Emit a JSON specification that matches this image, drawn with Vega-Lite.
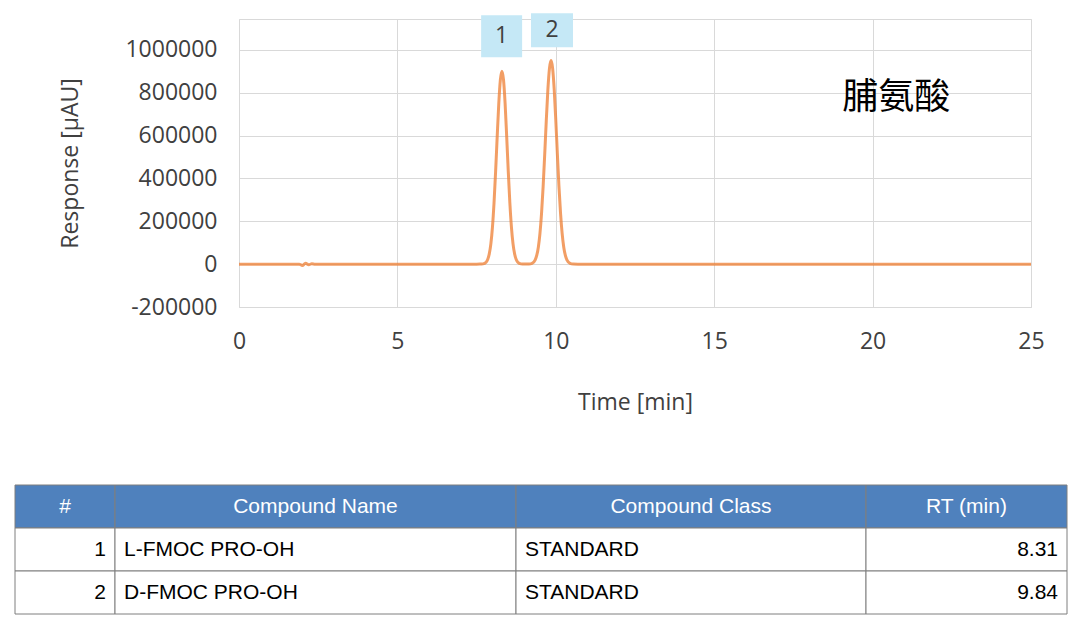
{
  "$schema": "https://vega.github.io/schema/vega-lite/v6.json",
  "background": "white",
  "padding": {"top": 12, "left": 14, "right": 0, "bottom": 0},
  "config": {
    "font": "Open Sans",
    "view": {"stroke": null}
  },
  "datasets": {
    "chrom": [
      {"t": 0, "resp": 0},
      {"t": 1.9, "resp": 0},
      {"t": 2.0, "resp": -6000},
      {"t": 2.1, "resp": 4000},
      {"t": 2.2, "resp": -3000},
      {"t": 2.3, "resp": 2000},
      {"t": 2.4, "resp": 0},
      {"t": 7.5, "resp": 0},
      {"t": 7.6, "resp": 100},
      {"t": 7.7, "resp": 1200},
      {"t": 7.8, "resp": 9100},
      {"t": 7.85, "resp": 21900},
      {"t": 7.9, "resp": 47700},
      {"t": 7.95, "resp": 94500},
      {"t": 8.0, "resp": 171900},
      {"t": 8.05, "resp": 285300},
      {"t": 8.1, "resp": 432000},
      {"t": 8.15, "resp": 594900},
      {"t": 8.2, "resp": 748800},
      {"t": 8.25, "resp": 859500},
      {"t": 8.3, "resp": 900000},
      {"t": 8.35, "resp": 859500},
      {"t": 8.4, "resp": 748800},
      {"t": 8.45, "resp": 594900},
      {"t": 8.5, "resp": 432000},
      {"t": 8.55, "resp": 285300},
      {"t": 8.6, "resp": 171900},
      {"t": 8.65, "resp": 94500},
      {"t": 8.7, "resp": 47700},
      {"t": 8.75, "resp": 21900},
      {"t": 8.8, "resp": 9100},
      {"t": 8.9, "resp": 1200},
      {"t": 9.0, "resp": 100},
      {"t": 9.15, "resp": 500},
      {"t": 9.25, "resp": 3700},
      {"t": 9.35, "resp": 20000},
      {"t": 9.4, "resp": 41700},
      {"t": 9.45, "resp": 80400},
      {"t": 9.5, "resp": 143500},
      {"t": 9.55, "resp": 236600},
      {"t": 9.6, "resp": 362000},
      {"t": 9.65, "resp": 512100},
      {"t": 9.7, "resp": 671700},
      {"t": 9.75, "resp": 814200},
      {"t": 9.8, "resp": 913900},
      {"t": 9.85, "resp": 950000},
      {"t": 9.9, "resp": 913900},
      {"t": 9.95, "resp": 814200},
      {"t": 10.0, "resp": 671700},
      {"t": 10.05, "resp": 512100},
      {"t": 10.1, "resp": 362000},
      {"t": 10.15, "resp": 236600},
      {"t": 10.2, "resp": 143500},
      {"t": 10.25, "resp": 80400},
      {"t": 10.3, "resp": 41700},
      {"t": 10.35, "resp": 20000},
      {"t": 10.45, "resp": 3700},
      {"t": 10.55, "resp": 500},
      {"t": 10.7, "resp": 0},
      {"t": 25, "resp": 0}
    ],
    "peaks": [
      {"label": "1", "t": 8.29, "resp": 1064000},
      {"label": "2", "t": 9.88, "resp": 1092000}
    ],
    "note": [
      {"text": "脯氨酸", "t": 20.75, "resp": 775000}
    ],
    "table": [
      {"row": "h", "num": "#", "name": "Compound Name", "cls": "Compound Class", "rt": "RT (min)"},
      {"row": "1", "num": "1", "name": "L-FMOC PRO-OH", "cls": "STANDARD", "rt": "8.31"},
      {"row": "2", "num": "2", "name": "D-FMOC PRO-OH", "cls": "STANDARD", "rt": "9.84"}
    ]
  },
  "spacing": 69,
  "vconcat": [
    {
      "hconcat": [
        {
          "width": 224,
          "height": 288,
          "data": {"values": [{}]},
          "mark": {"type": "point", "opacity": 0},
          "encoding": {}
        },
        {
          "width": 792,
          "height": 288,
          "view": {"stroke": "#D9D9D9"},
          "layer": [
            {
              "data": {"name": "chrom"},
              "mark": {"type": "line", "color": "#ED7D31", "strokeWidth": 3, "opacity": 0.75, "interpolate": "monotone"},
              "encoding": {
                "x": {
                  "field": "t", "type": "quantitative",
                  "scale": {"domain": [0, 25], "nice": false, "zero": false},
                  "axis": {
                    "values": [0, 5, 10, 15, 20, 25],
                    "grid": true, "gridColor": "#D9D9D9", "domain": false, "ticks": false,
                    "labelFontSize": 23, "labelColor": "#404040", "labelPadding": 23, "labelFlush": false,
                    "title": "Time [min]", "titleFontSize": 23, "titleFontWeight": "normal", "titleColor": "#404040", "titlePadding": 38
                  }
                },
                "y": {
                  "field": "resp", "type": "quantitative",
                  "scale": {"domain": [-200000, 1144000], "nice": false, "zero": false},
                  "axis": {
                    "values": [-200000, 0, 200000, 400000, 600000, 800000, 1000000],
                    "labelExpr": "datum.value < 0 ? '-' + format(-datum.value, 'd') : format(datum.value, 'd')",
                    "grid": true, "gridColor": "#D9D9D9", "domain": false, "ticks": false,
                    "labelFontSize": 23, "labelColor": "#404040", "labelPadding": 22,
                    "title": "Response [µAU]", "titleFontSize": 23, "titleFontWeight": "normal", "titleColor": "#404040", "titlePadding": 42
                  }
                }
              }
            },
            {
              "data": {"name": "peaks"},
              "mark": {"type": "point", "filled": true, "color": "#C5E8F6", "opacity": 1, "size": 1764},
              "encoding": {
                "x": {"field": "t", "type": "quantitative"},
                "y": {"field": "resp", "type": "quantitative"},
                "shape": {
                  "field": "label", "type": "nominal",
                  "scale": {"domain": ["1", "2"], "range": ["M-0.976,-1H0.976V1H-0.976Z", "M-1,-0.81H1V0.81H-1Z"]},
                  "legend": null
                }
              }
            },
            {
              "data": {"name": "peaks"},
              "mark": {"type": "text", "fontSize": 23, "color": "#404040", "font": "Open Sans"},
              "encoding": {
                "x": {"field": "t", "type": "quantitative"},
                "y": {"field": "resp", "type": "quantitative"},
                "text": {"field": "label"}
              }
            },
            {
              "data": {"name": "note"},
              "mark": {"type": "text", "fontSize": 36, "color": "#000000", "font": "Noto Sans CJK SC"},
              "encoding": {
                "x": {"field": "t", "type": "quantitative"},
                "y": {"field": "resp", "type": "quantitative"},
                "text": {"field": "text"}
              }
            }
          ]
        }
      ],
      "spacing": 0,
      "bounds": "flush"
    },
    {
      "spacing": 0,
      "bounds": "flush",
      "hconcat": [
        {
          "width": 100, "height": 129,
          "data": {"name": "table"},
          "layer": [
            {
              "mark": {"type": "rect", "stroke": "#7F7F7F", "strokeWidth": 1},
              "encoding": {
                "y": {"field": "row", "type": "nominal", "sort": ["h", "1", "2"], "axis": null, "scale": {"paddingInner": 0, "paddingOuter": 0}},
                "x": {"datum": 0, "type": "quantitative", "scale": {"domain": [0, 1]}, "axis": null},
                "x2": {"datum": 1},
                "color": {"field": "row", "type": "nominal", "scale": {"domain": ["h", "1", "2"], "range": ["#4F81BD", "#FFFFFF", "#FFFFFF"]}, "legend": null}
              }
            },
            {
              "transform": [{"filter": "datum.row === 'h'"}],
              "mark": {"type": "text", "font": "Liberation Sans", "fontSize": 21, "color": "#FFFFFF", "align": "center"},
              "encoding": {
                "y": {"field": "row", "type": "nominal", "sort": ["h", "1", "2"], "axis": null},
                "x": {"datum": 0.5, "type": "quantitative"},
                "text": {"field": "num"}
              }
            },
            {
              "transform": [{"filter": "datum.row !== 'h'"}],
              "mark": {"type": "text", "font": "Liberation Sans", "fontSize": 21, "color": "#000000", "align": "right", "dx": -9},
              "encoding": {
                "y": {"field": "row", "type": "nominal", "sort": ["h", "1", "2"], "axis": null},
                "x": {"datum": 1, "type": "quantitative"},
                "text": {"field": "num"}
              }
            }
          ]
        },
        {
          "width": 401, "height": 129,
          "data": {"name": "table"},
          "layer": [
            {
              "mark": {"type": "rect", "stroke": "#7F7F7F", "strokeWidth": 1},
              "encoding": {
                "y": {"field": "row", "type": "nominal", "sort": ["h", "1", "2"], "axis": null, "scale": {"paddingInner": 0, "paddingOuter": 0}},
                "x": {"datum": 0, "type": "quantitative", "scale": {"domain": [0, 1]}, "axis": null},
                "x2": {"datum": 1},
                "color": {"field": "row", "type": "nominal", "scale": {"domain": ["h", "1", "2"], "range": ["#4F81BD", "#FFFFFF", "#FFFFFF"]}, "legend": null}
              }
            },
            {
              "transform": [{"filter": "datum.row === 'h'"}],
              "mark": {"type": "text", "font": "Liberation Sans", "fontSize": 21, "color": "#FFFFFF", "align": "center"},
              "encoding": {
                "y": {"field": "row", "type": "nominal", "sort": ["h", "1", "2"], "axis": null},
                "x": {"datum": 0.5, "type": "quantitative"},
                "text": {"field": "name"}
              }
            },
            {
              "transform": [{"filter": "datum.row !== 'h'"}],
              "mark": {"type": "text", "font": "Liberation Sans", "fontSize": 21, "color": "#000000", "align": "left", "dx": 9},
              "encoding": {
                "y": {"field": "row", "type": "nominal", "sort": ["h", "1", "2"], "axis": null},
                "x": {"datum": 0, "type": "quantitative"},
                "text": {"field": "name"}
              }
            }
          ]
        },
        {
          "width": 350, "height": 129,
          "data": {"name": "table"},
          "layer": [
            {
              "mark": {"type": "rect", "stroke": "#7F7F7F", "strokeWidth": 1},
              "encoding": {
                "y": {"field": "row", "type": "nominal", "sort": ["h", "1", "2"], "axis": null, "scale": {"paddingInner": 0, "paddingOuter": 0}},
                "x": {"datum": 0, "type": "quantitative", "scale": {"domain": [0, 1]}, "axis": null},
                "x2": {"datum": 1},
                "color": {"field": "row", "type": "nominal", "scale": {"domain": ["h", "1", "2"], "range": ["#4F81BD", "#FFFFFF", "#FFFFFF"]}, "legend": null}
              }
            },
            {
              "transform": [{"filter": "datum.row === 'h'"}],
              "mark": {"type": "text", "font": "Liberation Sans", "fontSize": 21, "color": "#FFFFFF", "align": "center"},
              "encoding": {
                "y": {"field": "row", "type": "nominal", "sort": ["h", "1", "2"], "axis": null},
                "x": {"datum": 0.5, "type": "quantitative"},
                "text": {"field": "cls"}
              }
            },
            {
              "transform": [{"filter": "datum.row !== 'h'"}],
              "mark": {"type": "text", "font": "Liberation Sans", "fontSize": 21, "color": "#000000", "align": "left", "dx": 9},
              "encoding": {
                "y": {"field": "row", "type": "nominal", "sort": ["h", "1", "2"], "axis": null},
                "x": {"datum": 0, "type": "quantitative"},
                "text": {"field": "cls"}
              }
            }
          ]
        },
        {
          "width": 201, "height": 129,
          "data": {"name": "table"},
          "layer": [
            {
              "mark": {"type": "rect", "stroke": "#7F7F7F", "strokeWidth": 1},
              "encoding": {
                "y": {"field": "row", "type": "nominal", "sort": ["h", "1", "2"], "axis": null, "scale": {"paddingInner": 0, "paddingOuter": 0}},
                "x": {"datum": 0, "type": "quantitative", "scale": {"domain": [0, 1]}, "axis": null},
                "x2": {"datum": 1},
                "color": {"field": "row", "type": "nominal", "scale": {"domain": ["h", "1", "2"], "range": ["#4F81BD", "#FFFFFF", "#FFFFFF"]}, "legend": null}
              }
            },
            {
              "transform": [{"filter": "datum.row === 'h'"}],
              "mark": {"type": "text", "font": "Liberation Sans", "fontSize": 21, "color": "#FFFFFF", "align": "center"},
              "encoding": {
                "y": {"field": "row", "type": "nominal", "sort": ["h", "1", "2"], "axis": null},
                "x": {"datum": 0.5, "type": "quantitative"},
                "text": {"field": "rt"}
              }
            },
            {
              "transform": [{"filter": "datum.row !== 'h'"}],
              "mark": {"type": "text", "font": "Liberation Sans", "fontSize": 21, "color": "#000000", "align": "right", "dx": -9},
              "encoding": {
                "y": {"field": "row", "type": "nominal", "sort": ["h", "1", "2"], "axis": null},
                "x": {"datum": 1, "type": "quantitative"},
                "text": {"field": "rt"}
              }
            }
          ]
        }
      ]
    }
  ]
}
